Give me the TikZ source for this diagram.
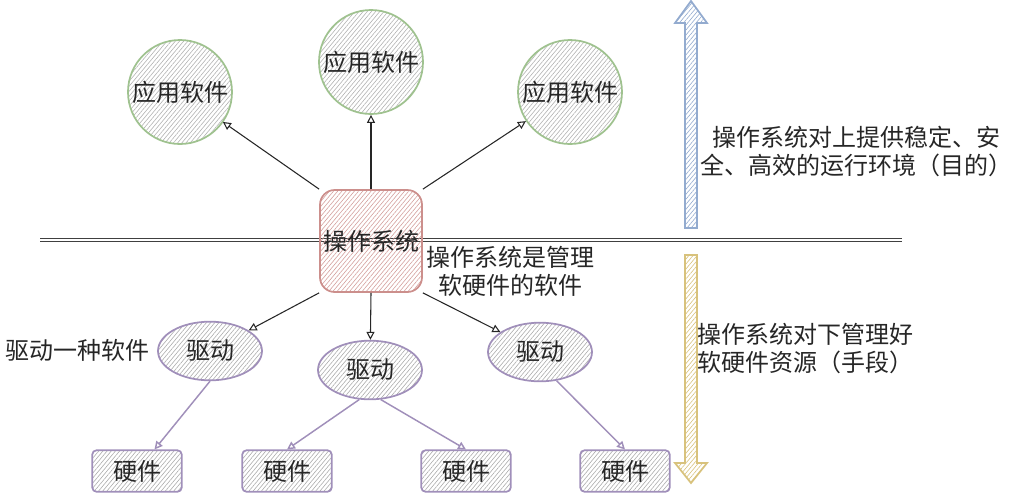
\documentclass[tikz,border=0pt]{standalone}
\usepackage{fontspec}
\setmainfont{Noto Sans CJK SC}
\usetikzlibrary{arrows.meta,shapes.geometric,patterns.meta}
\definecolor{appline}{HTML}{9FC28F}
\definecolor{osline}{HTML}{CC8F8C}
\definecolor{drvline}{HTML}{A08FBA}
\definecolor{upline}{HTML}{93ABCF}
\definecolor{downline}{HTML}{D8C27C}
\tikzset{
  hatch/.style={pattern={Lines[angle=50,distance=2.4pt,line width=0.45pt]}},
  app/.style={circle, draw=appline, line width=1.3pt, hatch, pattern color=gray!60, minimum size=78pt, inner sep=0pt},
  os/.style={rectangle, rounded corners=11pt, draw=osline, line width=1.3pt, hatch, pattern color=osline!85, minimum size=76.5pt, inner sep=0pt},
  drv/.style={ellipse, draw=drvline, line width=1.3pt, hatch, pattern color=gray!65, minimum width=78pt, minimum height=44pt, inner sep=0pt},
  hw/.style={rectangle, rounded corners=3pt, draw=drvline, line width=1.3pt, hatch, pattern color=gray!65, minimum width=67pt, minimum height=31pt, inner sep=0pt},
  toarrow/.style={thick, black!85, -{Triangle[open,length=6pt,width=6pt]}},
  hwarrow/.style={line width=1.1pt, drvline, -{Triangle[open,length=6pt,width=6pt]}}
}
\begin{document}
\begin{tikzpicture}[x=0.75pt, y=-0.75pt, font=\fontsize{18}{21}\selectfont, text=black!85]
\useasboundingbox (0,0) rectangle (1021,494);
%\draw[help lines] (0,0) grid[step=50] (1021,494);
\draw[black!75, line width=0.7pt, double=white, double distance=1.5pt] (40,240)--(902,240);
%
\foreach \n/\x/\y in {appL/180/92, appM/371/62, appR/570/92}
\node[app] (\n) at (\x,\y) {应用软件};
\node[os] (os) at (371,241) {操作系统};
\foreach \n/\x/\y in {drvL/210/351, drvM/370/370, drvR/540/352}
\node[drv] (\n) at (\x,\y) {驱动};
\foreach \n/\x in {hwA/137, hwB/287, hwC/466, hwD/625}
\node[hw] (\n) at (\x,471) {硬件};
%
\draw[toarrow] (os.north west)--(appL);
\draw[toarrow] (os.north)--(appM);
\draw[toarrow] (os.north east)--(appR);
\draw[toarrow] (os.south west)--(drvL);
\draw[toarrow] (os.south)--(drvM);
\draw[toarrow] (os.south east)--(drvR);
\draw[hwarrow] (drvL.south)--(hwA);
\draw[hwarrow] (drvM.250)--(hwB.north);
\draw[hwarrow] (drvM.290)--(hwC.north);
\draw[hwarrow] (drvR.300)--(hwD.north);
%
\node[align=center] (osnote) at (510,271) {操作系统是管理\\软硬件的软件};
\node (drvnote) at (78,350) {驱动一种软件};
%
\draw[upline, line width=1.3pt, hatch, pattern color=upline] (685,228)--(685,23)--(675,23)--(691,1)--(707,23)--(697,23)--(697,228)--cycle;
\draw[downline, line width=1.3pt, hatch, pattern color=downline] (685,255)--(685,463)--(675,463)--(691,483)--(707,463)--(697,463)--(697,255)--cycle;
\node[anchor=west, align=left, inner sep=0pt] (upnote) at (700,151) {\hspace{9pt}操作系统对上提供稳定、安\\全、高效的运行环境（目的）};
\node[anchor=west, align=left, inner sep=0pt] (downnote) at (697,349) {操作系统对下管理好\\软硬件资源（手段）};
\end{tikzpicture}
\end{document}
